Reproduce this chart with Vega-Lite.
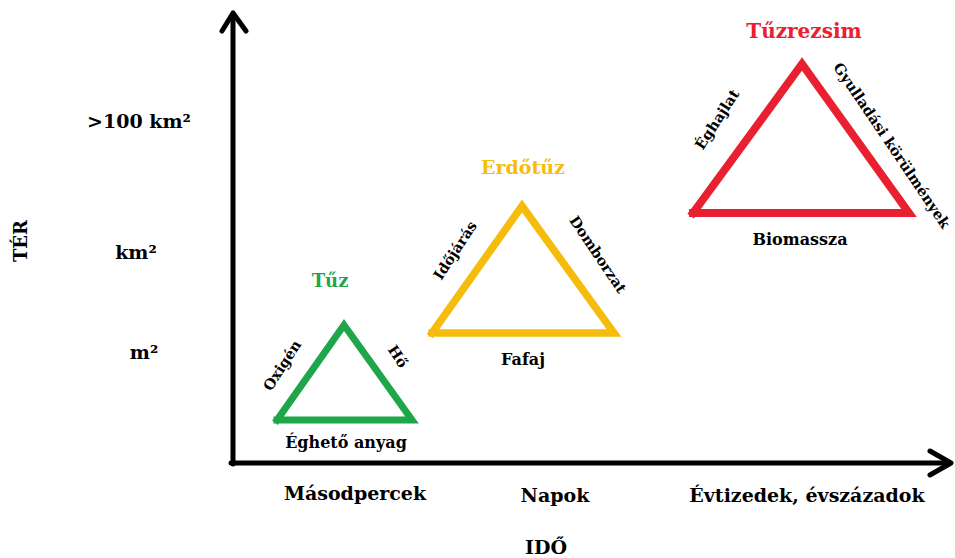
{
  "$schema": "https://vega.github.io/schema/vega-lite/v6.json",
  "width": 955,
  "height": 558,
  "padding": 0,
  "autosize": {"type": "fit", "contains": "padding"},
  "background": "white",
  "config": {"view": {"stroke": null}},
  "datasets": {
    "arrows": [
      {"seg": "yaxis", "i": 0, "x": 233, "y": 464},
      {"seg": "yaxis", "i": 1, "x": 233, "y": 14},
      {"seg": "yhead", "i": 0, "x": 222, "y": 31},
      {"seg": "yhead", "i": 1, "x": 233, "y": 13},
      {"seg": "yhead", "i": 2, "x": 246, "y": 31},
      {"seg": "xaxis", "i": 0, "x": 231, "y": 463},
      {"seg": "xaxis", "i": 1, "x": 950, "y": 463},
      {"seg": "xhead", "i": 0, "x": 930, "y": 451},
      {"seg": "xhead", "i": 1, "x": 951, "y": 463},
      {"seg": "xhead", "i": 2, "x": 930, "y": 475}
    ],
    "triangles": [
      {"fire": "Tűz", "i": 0, "x": 277, "y": 420},
      {"fire": "Tűz", "i": 1, "x": 344, "y": 325},
      {"fire": "Tűz", "i": 2, "x": 412, "y": 420},
      {"fire": "Tűz", "i": 3, "x": 277, "y": 420},
      {"fire": "Erdőtűz", "i": 0, "x": 432, "y": 333},
      {"fire": "Erdőtűz", "i": 1, "x": 522, "y": 206},
      {"fire": "Erdőtűz", "i": 2, "x": 614, "y": 333},
      {"fire": "Erdőtűz", "i": 3, "x": 432, "y": 333},
      {"fire": "Tűzrezsim", "i": 0, "x": 693, "y": 213},
      {"fire": "Tűzrezsim", "i": 1, "x": 802, "y": 64},
      {"fire": "Tűzrezsim", "i": 2, "x": 909, "y": 213},
      {"fire": "Tűzrezsim", "i": 3, "x": 693, "y": 213}
    ],
    "titles": [
      {"fire": "Tűz", "label": "Tűz", "x": 330, "y": 282},
      {"fire": "Erdőtűz", "label": "Erdőtűz", "x": 523, "y": 168},
      {"fire": "Tűzrezsim", "label": "Tűzrezsim", "x": 804, "y": 32}
    ],
    "sides": [
      {"side": "left", "label": "Oxigén", "x": 283, "y": 366},
      {"side": "right", "label": "Hő", "x": 397, "y": 357},
      {"side": "bottom", "label": "Éghető anyag", "x": 346, "y": 443},
      {"side": "left", "label": "Időjárás", "x": 456, "y": 251},
      {"side": "right", "label": "Domborzat", "x": 597, "y": 255},
      {"side": "bottom", "label": "Fafaj", "x": 523, "y": 360},
      {"side": "left", "label": "Éghajlat", "x": 718, "y": 120},
      {"side": "right", "label": "Gyulladási körülmények", "x": 891, "y": 146},
      {"side": "bottom", "label": "Biomassza", "x": 800, "y": 240}
    ],
    "scales": [
      {"axis": "y", "label": ">100 km²", "x": 139, "y": 122},
      {"axis": "y", "label": "km²", "x": 136, "y": 253},
      {"axis": "y", "label": "m²", "x": 144, "y": 353},
      {"axis": "x", "label": "Másodpercek", "x": 355, "y": 494},
      {"axis": "x", "label": "Napok", "x": 555, "y": 496},
      {"axis": "x", "label": "Évtizedek, évszázadok", "x": 807, "y": 496},
      {"axis": "title", "label": "IDŐ", "x": 546, "y": 548}
    ],
    "ytitle": [
      {"label": "TÉR", "x": 22, "y": 241}
    ]
  },
  "encoding": {
    "x": {"field": "x", "type": "quantitative", "scale": {"domain": [0, 955], "nice": false, "zero": false}, "axis": null},
    "y": {"field": "y", "type": "quantitative", "scale": {"domain": [0, 558], "nice": false, "zero": false, "reverse": true}, "axis": null}
  },
  "layer": [
    {
      "data": {"name": "arrows"},
      "mark": {"type": "line", "color": "black", "strokeWidth": 5, "strokeCap": "round", "strokeJoin": "round"},
      "encoding": {"detail": {"field": "seg"}, "order": {"field": "i", "type": "quantitative"}}
    },
    {
      "data": {"name": "triangles"},
      "mark": {"type": "line", "strokeJoin": "miter", "strokeCap": "square"},
      "encoding": {
        "detail": {"field": "fire"},
        "order": {"field": "i", "type": "quantitative"},
        "color": {"field": "fire", "type": "nominal", "scale": {"domain": ["Tűz", "Erdőtűz", "Tűzrezsim"], "range": ["#1fa64b", "#f6bc0c", "#e8202f"]}, "legend": null},
        "strokeWidth": {"field": "fire", "type": "nominal", "scale": {"domain": ["Tűz", "Erdőtűz", "Tűzrezsim"], "range": [7, 8, 5]}, "legend": null}
      }
    },
    {
      "data": {"name": "titles"},
      "mark": {"type": "text", "font": "DejaVu Serif", "fontWeight": "bold", "baseline": "middle", "align": "center"},
      "encoding": {
        "text": {"field": "label"},
        "size": {"field": "fire", "type": "nominal", "scale": {"domain": ["Tűz", "Erdőtűz", "Tűzrezsim"], "range": [18, 20, 19]}, "legend": null},
        "color": {"field": "fire", "type": "nominal", "scale": {"domain": ["Tűz", "Erdőtűz", "Tűzrezsim"], "range": ["#1fa64b", "#f6bc0c", "#e8202f"]}, "legend": null}
      }
    },
    {
      "data": {"name": "sides"},
      "transform": [{"filter": "datum.side === 'left'"}],
      "mark": {"type": "text", "font": "DejaVu Serif", "fontWeight": "bold", "fontSize": 14.5, "baseline": "middle", "align": "center", "angle": 303, "color": "black"},
      "encoding": {"text": {"field": "label"}}
    },
    {
      "data": {"name": "sides"},
      "transform": [{"filter": "datum.side === 'right'"}],
      "mark": {"type": "text", "font": "DejaVu Serif", "fontWeight": "bold", "fontSize": 14.5, "baseline": "middle", "align": "center", "angle": 56, "color": "black"},
      "encoding": {"text": {"field": "label"}}
    },
    {
      "data": {"name": "sides"},
      "transform": [{"filter": "datum.side === 'bottom'"}],
      "mark": {"type": "text", "font": "DejaVu Serif", "fontWeight": "bold", "fontSize": 16, "baseline": "middle", "align": "center", "color": "black"},
      "encoding": {"text": {"field": "label"}}
    },
    {
      "data": {"name": "scales"},
      "mark": {"type": "text", "font": "DejaVu Serif", "fontWeight": "bold", "fontSize": 19, "baseline": "middle", "align": "center", "color": "black"},
      "encoding": {"text": {"field": "label"}}
    },
    {
      "data": {"name": "ytitle"},
      "mark": {"type": "text", "font": "DejaVu Serif", "fontWeight": "bold", "fontSize": 18, "baseline": "middle", "align": "center", "angle": 270, "color": "black"},
      "encoding": {"text": {"field": "label"}}
    }
  ]
}
